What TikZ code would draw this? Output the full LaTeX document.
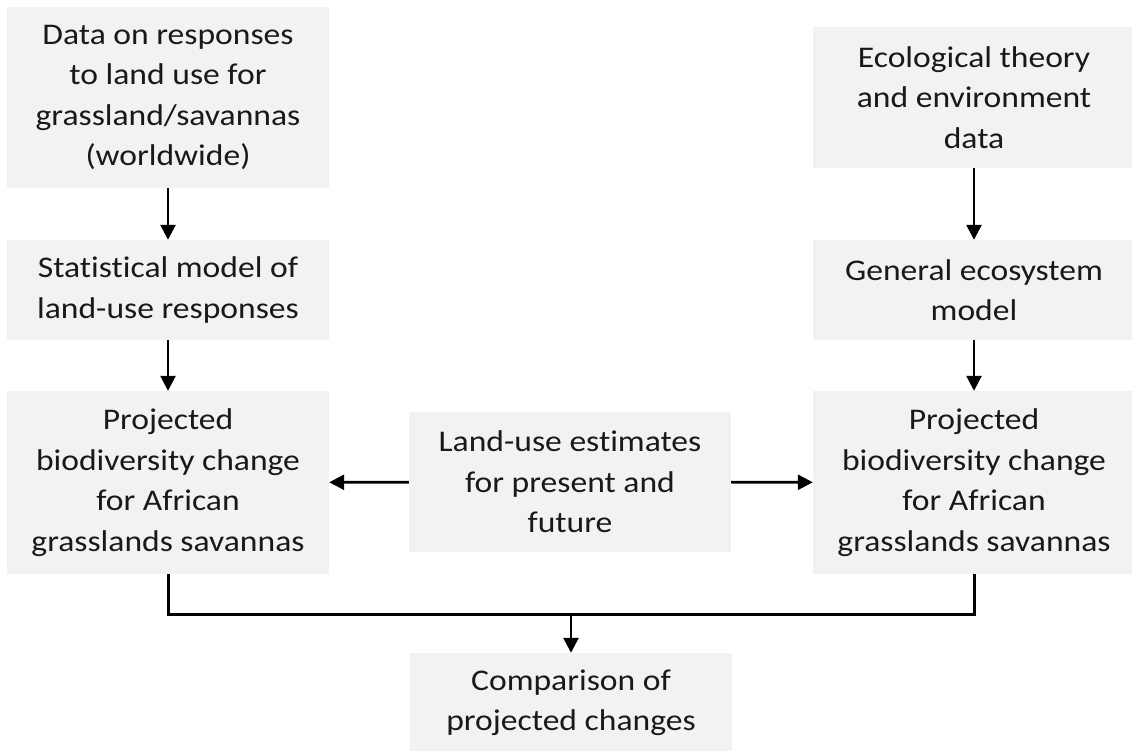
\documentclass[tikz,border=0pt]{standalone}
\usepackage{fontspec}
\setmainfont[FakeStretch=1.12, Ligatures=NoCommon]{Carlito}
\usetikzlibrary{arrows.meta}
\definecolor{boxgray}{HTML}{F2F2F2}
\tikzset{
  box/.style={fill=boxgray, draw=none, inner sep=0pt, minimum width=322pt,
    align=center, font=\fontsize{30}{40.5}\selectfont, text=black!90},
  arr/.style={line width=2.6pt, -{Triangle[length=15pt,width=15pt]}},
  link/.style={line width=3pt}
}
\begin{document}
\begin{tikzpicture}[x=1pt,y=-1pt]
\useasboundingbox (0,0) rectangle (1132,751);
\node[box, minimum height=181pt] (A) at (168,97.5) {Data on responses\\to land use for\\grassland/savannas\\(worldwide)};
\node[box, minimum height=100pt] (B) at (168,290) {Statistical model of\\land-use responses};
\node[box, minimum height=183pt] (C) at (168,482.5) {Projected\\biodiversity change\\for African\\grasslands savannas};
\node[box, minimum height=141pt] (D) at (974,97.5) {Ecological theory\\and environment\\data};
\node[box, minimum height=100pt] (E) at (974,290) {General ecosystem\\model};
\node[box, minimum height=183pt] (F) at (974,482.5) {Projected\\biodiversity change\\for African\\grasslands savannas};
\node[box, minimum height=140pt] (G) at (570,482) {Land-use estimates\\for present and\\future};
\node[box, minimum height=100pt] (H) at (571,703) {Comparison of\\projected changes};
\coordinate (J) at (571,614);
\draw[arr] (A) -- (B);
\draw[arr] (B) -- (C);
\draw[arr] (D) -- (E);
\draw[arr] (E) -- (F);
\draw[arr] (G) -- (C);
\draw[arr] (G) -- (F);
\draw[link] (C.south) |- (J) -| (F.south);
\draw[arr] (J) -- (H.north);
\end{tikzpicture}
\end{document}
